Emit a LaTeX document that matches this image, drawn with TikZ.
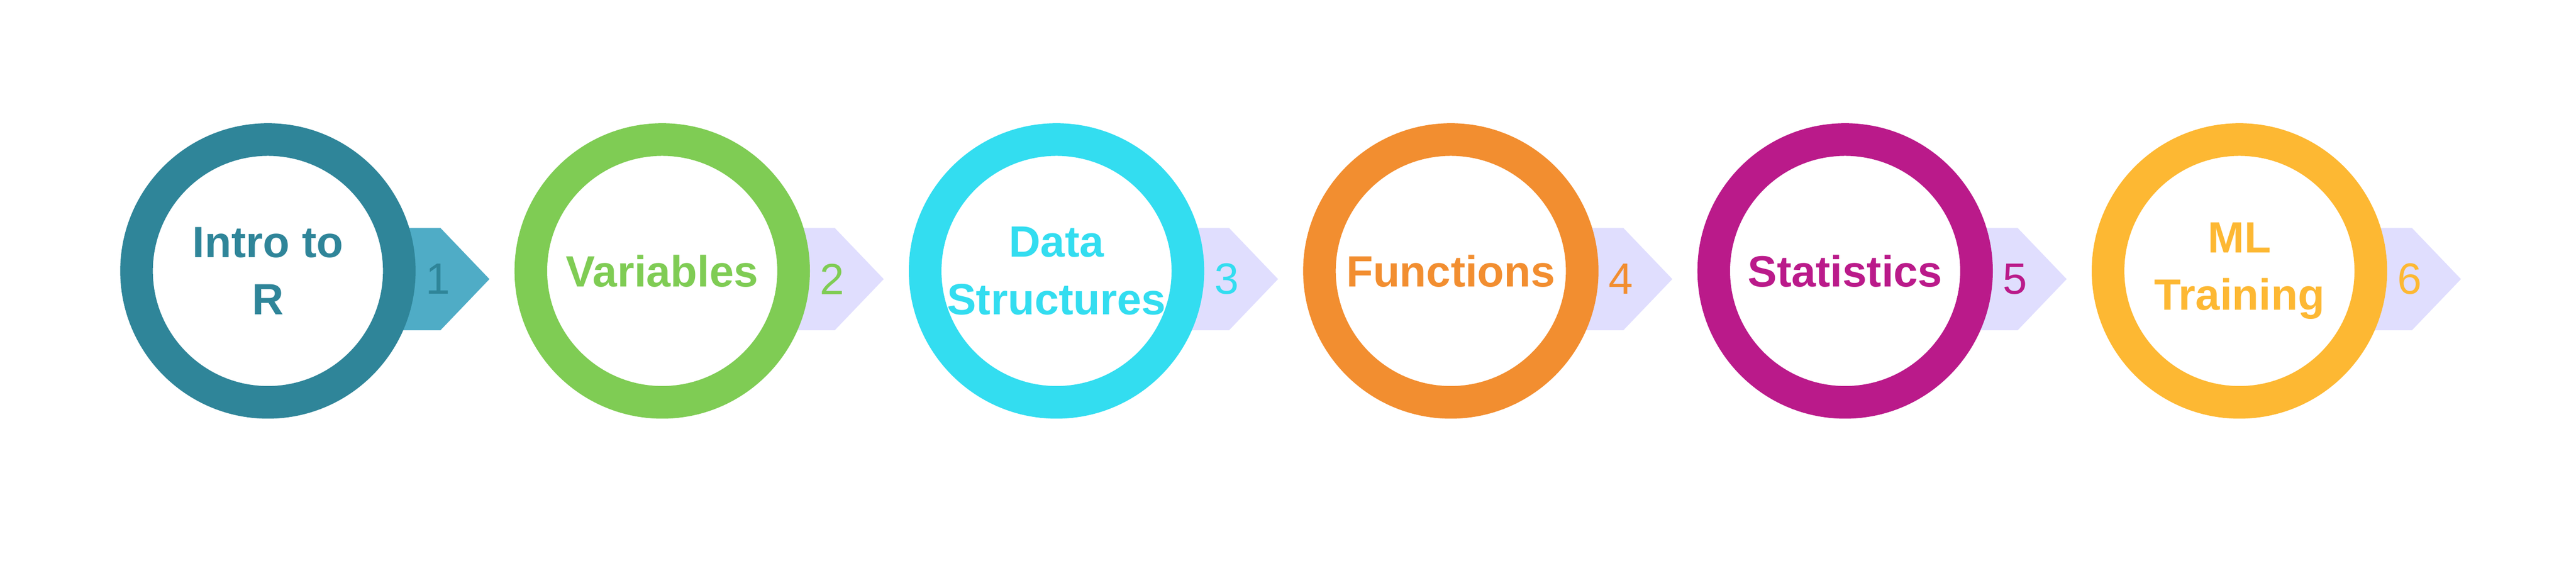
\documentclass[tikz,border=0pt]{standalone}
\usepackage{fontspec}
\setmainfont{Liberation Sans}
\definecolor{cIntro}{HTML}{2F8599}
\definecolor{cVar}{HTML}{7FCC54}
\definecolor{cData}{HTML}{33DDF0}
\definecolor{cFunc}{HTML}{F28E30}
\definecolor{cStat}{HTML}{BA1A8A}
\definecolor{cML}{HTML}{FDB833}
\definecolor{arrowfirst}{HTML}{4FACC6}
\definecolor{arrowlight}{HTML}{E0DEFE}
\tikzset{
  ring/.style={circle,draw=#1,line width=0.76cm,fill=white,minimum size=6.12cm,inner sep=0pt,
    text=#1,font=\fontsize{29}{38}\selectfont\bfseries,align=center},
  steplabel/.style={text=#1,font=\fontsize{29}{34}\selectfont}
}
\begin{document}
\begin{tikzpicture}
\useasboundingbox (0,0) rectangle (60,13.34);

\foreach \i/\col/\acol/\txt in {0/cIntro/arrowfirst/{Intro to\\R},1/cVar/arrowlight/Variables,
  2/cData/arrowlight/{Data\\Structures},3/cFunc/arrowlight/Functions,
  4/cStat/arrowlight/Statistics,5/cML/arrowlight/{ML\\Training}}{
  \begin{scope}[xshift=\i*9.184cm]
  \fill[color=\acol] (9.0,5.65) -- (10.26,5.65) -- (11.40,6.84) -- (10.26,8.03) -- (9.0,8.03) -- cycle;
  \node[ring=\col] (c\i) at (6.24,7.03) {\txt};
  \pgfmathtruncatemacro{\n}{\i+1}
  \node[steplabel=\col] (n\i) at (10.2,6.84) {\n};
  \end{scope}
}

\end{tikzpicture}
\end{document}
